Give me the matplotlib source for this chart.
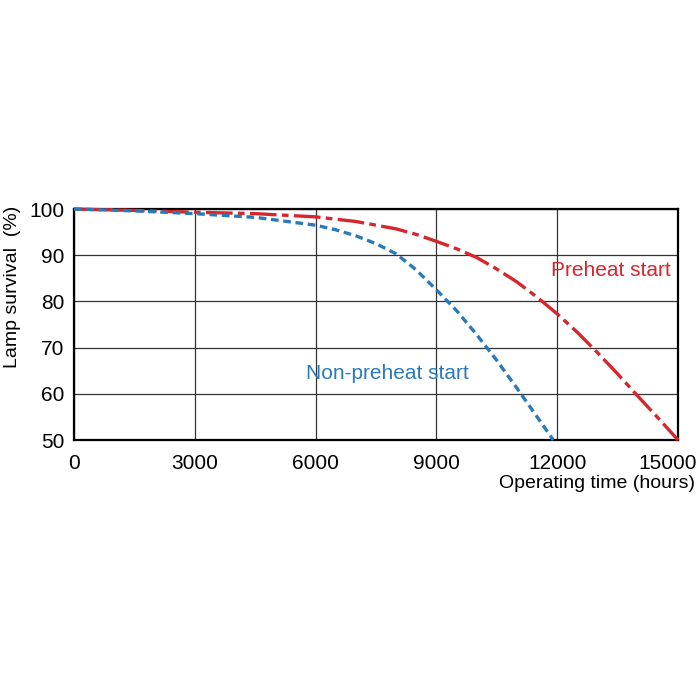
import matplotlib.pyplot as plt
import matplotlib.transforms as mtransforms

plt.rcParams['font.family'] = ['Liberation Sans', 'DejaVu Sans']

# hours vs survival (%)
preheat_hours = [0, 1500, 3000, 4500, 6000, 7000, 8000, 8500, 9000, 9500, 10000, 10500,
                 11000, 11500, 12000, 12500, 13000, 13500, 14000, 14500, 15000]
preheat_surv = [100, 99.7, 99.3, 99.0, 98.3, 97.3, 95.7, 94.5, 93.0, 91.4, 89.5, 87.0,
                84.2, 80.9, 77.3, 73.3, 68.9, 64.3, 59.5, 54.8, 50]

nonpre_hours = [0, 1500, 3000, 4500, 6000, 6500, 7000, 7500, 8000, 8500, 9000, 9500,
                10000, 10500, 11000, 11500, 11900]
nonpre_surv = [100, 99.6, 99.0, 98.2, 96.5, 95.5, 94.2, 92.5, 90.3, 86.8, 82.5, 78.0,
               72.8, 67.2, 61.2, 55.0, 50]

x_ticks = [0, 3000, 6000, 9000, 12000, 15000]
y_ticks = [50, 60, 70, 80, 90, 100]

red = '#d7262c'
blue = '#2a7ab9'

fig = plt.figure(figsize=(7, 7), dpi=100)
ax = fig.add_axes([0.1057, 0.3714, 0.863, 0.33])

ax.plot(preheat_hours, preheat_surv, color=red, lw=2.4,
        dashes=(8, 1.6, 2, 1.6), clip_on=False, zorder=3)
ax.plot(nonpre_hours, nonpre_surv, color=blue, lw=2.4,
        dashes=(2.3, 1.4), clip_on=False, zorder=3)

ax.set_xlim(0, 15000)
ax.set_ylim(50, 100)
ax.set_xticks(x_ticks)
ax.set_yticks(y_ticks)
ax.tick_params(length=0, labelsize=15, colors='black')
ax.tick_params(axis='x', pad=10)
ax.tick_params(axis='y', pad=7)
ax.grid(True, color='#333333', lw=0.9)
for s in ax.spines.values():
    s.set_linewidth(1.6)

# last x label sits left of its grid line so it stays inside the image
last = ax.get_xticklabels()[-1]
last.set_horizontalalignment('right')
last.set_transform(last.get_transform() + mtransforms.ScaledTranslation(0.19, 0, fig.dpi_scale_trans))

ax.text(14830, 86.8, 'Preheat start', color=red, fontsize=15, ha='right', va='center')
ax.text(9810, 64.5, 'Non-preheat start', color=blue, fontsize=15, ha='right', va='center')

fig.text(0.993, 0.31, 'Operating time (hours)', fontsize=14, ha='right', va='center')
fig.text(0.018, 0.59, 'Lamp survival  (%)', fontsize=14, rotation=90, ha='center', va='center')

fig.savefig('out.png', dpi=100)
